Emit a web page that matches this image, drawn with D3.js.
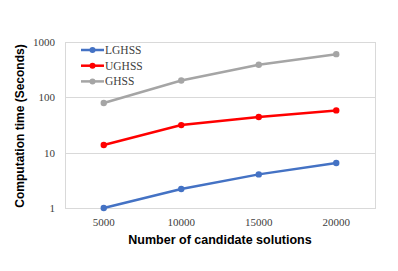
<!DOCTYPE html>
<html>
<head>
<meta charset="utf-8">
<script src="https://cdn.jsdelivr.net/npm/d3@7"></script>
<style>
  body { margin: 0; background: #fff; }
  .grid line { stroke: #d9d9d9; stroke-width: 1; }
  .tick-label { font-family: 'Liberation Serif', 'Times New Roman', serif; font-size: 11px; fill: #404040; }
  .axis-title { font-family: 'Liberation Sans', Arial, sans-serif; font-weight: bold; fill: #000; }
  .legend text { font-family: 'Liberation Serif', 'Times New Roman', serif; font-size: 11.5px; fill: #404040; }
</style>
</head>
<body>
<div id="chart"></div>
<script>
// chart data
const sizes = ['5000', '10000', '15000', '20000'];
const lghss = [1.0, 2.2, 4.05, 6.5];
const ughss = [13.8, 31.5, 44, 58];
const ghss = [79, 202, 388, 603];
const yTicks = [1, 10, 100, 1000];

const seriesNames = ['LGHSS', 'UGHSS', 'GHSS'];
const seriesColors = ['#4472c4', '#ff0000', '#a5a5a5'];

const width = 398;
const height = 271;
const margin = {top: 42, right: 23, bottom: 63, left: 65};

let svg = d3.select('#chart')
  .append('svg')
    .attr('width', width)
    .attr('height', height);

let x = d3.scaleBand()
    .domain(sizes)
    .range([margin.left, width - margin.right]);

let y = d3.scaleLog()
    .domain([1, 1000])
    .range([height - margin.bottom, margin.top]);

// gridlines
svg.append('g')
    .attr('class', 'grid')
  .selectAll('line')
    .data(yTicks)
  .enter()
  .append('line')
    .attr('x1', margin.left)
    .attr('x2', width - margin.right)
    .attr('y1', function(d) { return Math.round(y(d)) + 0.5; })
    .attr('y2', function(d) { return Math.round(y(d)) + 0.5; });

// plot border
svg.append('rect')
    .attr('x', margin.left + 0.5)
    .attr('y', margin.top + 0.5)
    .attr('width', width - margin.left - margin.right)
    .attr('height', height - margin.top - margin.bottom)
    .style('fill', 'none')
    .style('stroke', '#d9d9d9');

// y tick labels
svg.append('g')
  .selectAll('text')
    .data(yTicks)
  .enter()
  .append('text')
    .attr('class', 'tick-label')
    .attr('x', margin.left - 10)
    .attr('y', function(d) { return y(d); })
    .attr('dy', '0.35em')
    .attr('text-anchor', 'end')
    .text(function(d) { return d; });

// x tick labels
svg.append('g')
  .selectAll('text')
    .data(sizes)
  .enter()
  .append('text')
    .attr('class', 'tick-label')
    .attr('x', function(d) { return x(d) + x.bandwidth() / 2; })
    .attr('y', height - margin.bottom + 18)
    .attr('text-anchor', 'middle')
    .text(function(d) { return d; });

// axis titles
svg.append('text')
    .attr('class', 'axis-title')
    .attr('x', (margin.left + width - margin.right) / 2)
    .attr('y', height - margin.bottom + 36)
    .attr('text-anchor', 'middle')
    .style('font-size', '12.5px')
    .text('Number of candidate solutions');

svg.append('text')
    .attr('class', 'axis-title')
    .attr('transform', 'translate(24,' + ((margin.top + height - margin.bottom) / 2 + 1) + ') rotate(-90)')
    .attr('text-anchor', 'middle')
    .style('font-size', '12px')
    .text('Computation time (Seconds)');

// series
let allSeries = [lghss, ughss, ghss];
let line = d3.line()
    .x(function(d, i) { return x(sizes[i]) + x.bandwidth() / 2; })
    .y(function(d) { return y(d); });

allSeries.forEach(function(values, s) {
  let g = svg.append('g');
  g.append('path')
      .datum(values)
      .attr('d', line)
      .style('fill', 'none')
      .style('stroke', seriesColors[s])
      .style('stroke-width', 2.5);
  g.selectAll('circle')
      .data(values)
    .enter()
    .append('circle')
      .attr('cx', function(d, i) { return x(sizes[i]) + x.bandwidth() / 2; })
      .attr('cy', function(d) { return y(d); })
      .attr('r', 3.2)
      .style('fill', seriesColors[s]);
});

// legend
let legend = svg.append('g')
    .attr('class', 'legend');

seriesNames.forEach(function(name, i) {
  let ly = 50 + i * 15.7;
  legend.append('line')
      .attr('x1', 81)
      .attr('x2', 104)
      .attr('y1', ly)
      .attr('y2', ly)
      .style('stroke', seriesColors[i])
      .style('stroke-width', 2.5);
  legend.append('circle')
      .attr('cx', 92.5)
      .attr('cy', ly)
      .attr('r', 3)
      .style('fill', seriesColors[i]);
  legend.append('text')
      .attr('x', 105)
      .attr('y', ly)
      .attr('dy', '0.35em')
      .text(name);
});
</script>
</body>
</html>
